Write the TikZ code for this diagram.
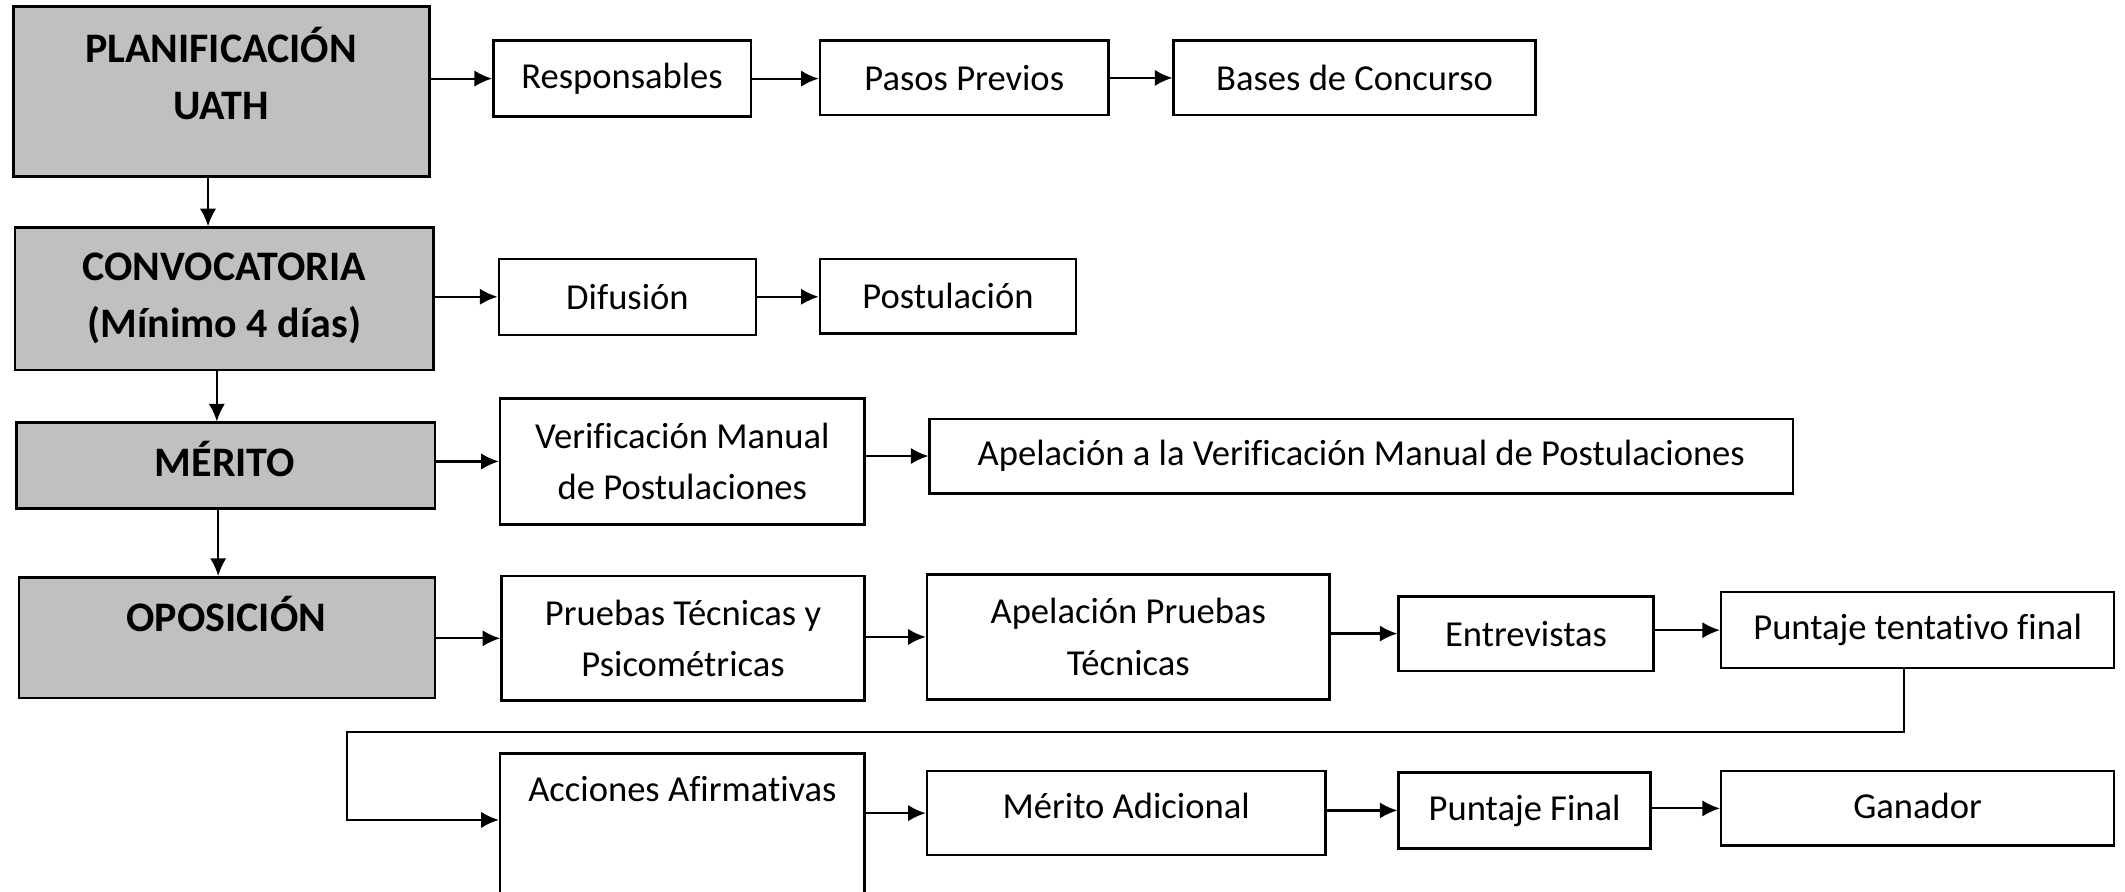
\documentclass[tikz,border=0pt]{standalone}
\usepackage{fontspec}
\setmainfont{Carlito}[Ligatures=NoCommon]
\usetikzlibrary{arrows.meta}
\definecolor{boxgray}{RGB}{192,192,192}
\begin{document}
\begin{tikzpicture}[x=0.5pt,y=-0.5pt,
  wbox/.style={draw=black, line width=0.9pt, fill=white, inner sep=0pt, align=center, font=\fontsize{13.5}{19}\selectfont},
  gbox/.style={draw=black, line width=1pt, fill=boxgray, inner sep=0pt},
  gtext/.style={align=center, font=\fontsize{15.5}{21}\selectfont\bfseries, inner sep=0pt},
  wtext/.style={align=center, font=\fontsize{13.5}{19}\selectfont, inner sep=0pt},
  arr/.style={-{Latex[length=6.5pt,width=6pt]}, line width=0.8pt}]
\useasboundingbox (0,0) rectangle (1568,658);
\clip (0,0) rectangle (1568,658);
\fill[white] (0,0) rectangle (1568,658);

% left column
\node[gbox, minimum width=153.5pt, minimum height=62.5pt] (plan) at (163.5,67.5) {};
\node[gtext] (plantxt) at (163,54) {PLANIFICACIÓN\\UATH};
\node[gbox, gtext, minimum width=154.5pt, minimum height=52.5pt] (conv) at (165.5,220.5) {CONVOCATORIA\\(Mínimo 4 días)};
\node[gbox, minimum width=154.5pt, minimum height=31.5pt] (mer) at (166.5,343.5) {};
\node[gtext] (mertxt) at (166,338.5) {MÉRITO};
\node[gbox, minimum width=153.5pt, minimum height=44.5pt] (opo) at (167.5,470.5) {};
\node[gtext] (opotxt) at (167,453) {OPOSICIÓN};

% row 1
\node[wbox, minimum width=95pt, minimum height=28pt] (resp) at (459,58) {Responsables};
\node[wbox, minimum width=106.5pt, minimum height=27.5pt] (pasos) at (711.5,57.5) {Pasos Previos};
\node[wbox, minimum width=133.5pt, minimum height=27.5pt] (bases) at (999.5,57.5) {Bases de Concurso};
% row 2
\node[wbox, minimum width=95pt, minimum height=28pt] (dif) at (463,219) {Difusión};
\node[wbox, minimum width=94.5pt, minimum height=27.5pt] (post) at (699.5,218.5) {Postulación};
% row 3
\node[wbox, minimum width=134.5pt, minimum height=46.5pt] (ver) at (503.5,340.5) {Verificación Manual\\de Postulaciones};
\node[wbox, minimum width=318.5pt, minimum height=27.5pt] (apver) at (1004.5,336.5) {Apelación a la Verificación Manual de Postulaciones};
% row 4
\node[wbox, minimum width=134pt, minimum height=46pt] (prue) at (504,471) {Pruebas Técnicas y\\Psicométricas};
\node[wbox, minimum width=148.5pt, minimum height=46pt] (appr) at (832.5,470) {Apelación Pruebas\\Técnicas};
\node[wbox, minimum width=94pt, minimum height=27.5pt] (entr) at (1126,467.5) {Entrevistas};
\node[wbox, minimum width=145pt, minimum height=28pt] (punt) at (1415,465) {Puntaje tentativo final};
% row 5
\node[wbox, minimum width=134.5pt, minimum height=67pt] (acc) at (503.5,623) {};
\node[wtext] (acctxt) at (503.5,582) {Acciones Afirmativas};
\node[wbox, minimum width=147pt, minimum height=31pt] (madic) at (831,600) {};
\node[wtext] (madictxt) at (831,595) {Mérito Adicional};
\node[wbox, minimum width=93pt, minimum height=28pt] (pfin) at (1125,598) {Puntaje Final};
\node[wbox, minimum width=145pt, minimum height=27.5pt] (gan) at (1415,596.5) {};
\node[wtext] (gantxt) at (1415,594.5) {Ganador};

% vertical arrows
\draw[arr] ([xshift=-5pt]plan.south) -- ([xshift=-5pt]plan.south |- conv.north);
\draw[arr] ([xshift=-2.75pt]conv.south) -- ([xshift=-2.75pt]conv.south |- mer.north);
\draw[arr] ([xshift=-2.75pt]mer.south) -- ([xshift=-2.75pt]mer.south |- opo.north);

% horizontal arrows
\draw[arr] (plan.east |- resp.west) -- (resp.west);
\draw[arr] (resp.east) -- (resp.east -| pasos.west);
\draw[arr] (pasos.east) -- (pasos.east -| bases.west);
\draw[arr] (conv.east |- dif.west) -- (dif.west);
\draw[arr] (dif.east) -- (dif.east -| post.west);
\draw[arr] (mer.east |- ver.west) -- (ver.west);
\draw[arr] (ver.east |- apver.west) -- (apver.west);
\draw[arr] (opo.east |- prue.west) -- (prue.west);
\draw[arr] (prue.east |- appr.west) -- (appr.west);
\draw[arr] (appr.east |- entr.west) -- (entr.west);
\draw[arr] (entr.east |- punt.west) -- (punt.west);
\draw[arr] (acc.east |- madic.west) -- (madic.west);
\draw[arr] (madic.east |- pfin.west) -- (pfin.west);
\draw[arr] (pfin.east |- gan.west) -- (gan.west);

% loop connector
\coordinate (k1) at (256,540);
\coordinate (k2) at (256,605);
\draw[arr] ([xshift=-5pt]punt.south) |- (k1) -- (k2) -- (k2 -| acc.west);
\end{tikzpicture}
\end{document}
